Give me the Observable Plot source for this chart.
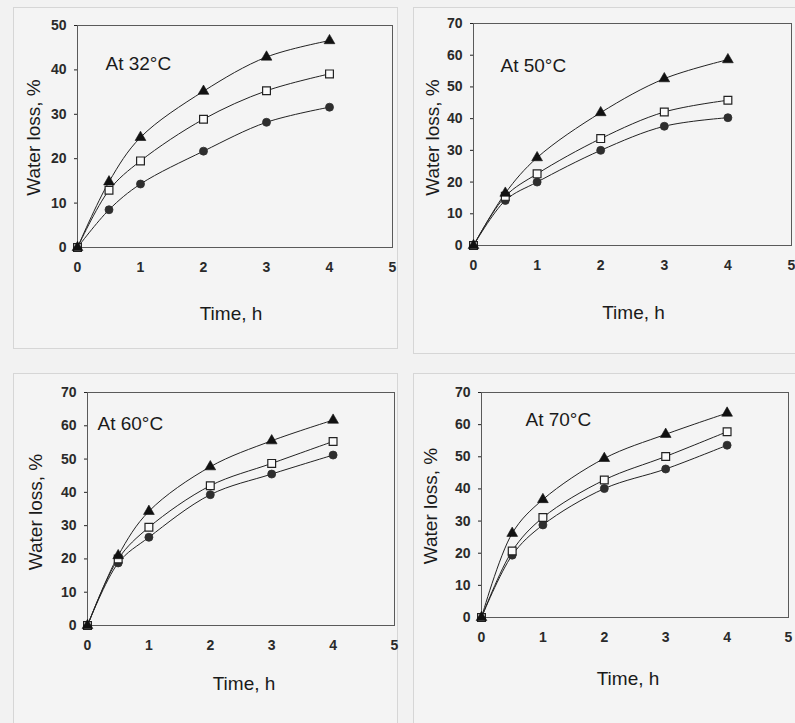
<!DOCTYPE html>
<html>
<head>
<meta charset="utf-8">
<script src="https://cdn.jsdelivr.net/npm/d3@7"></script>
<script src="https://cdn.jsdelivr.net/npm/@observablehq/plot@0.6"></script>
<style>
  html, body { margin: 0; padding: 0; background: #f2f2f2; }
  #wrap { position: relative; width: 795px; height: 723px; background: #f2f2f2; overflow: hidden; }
  .box { position: absolute; border: 1px solid #d6d6d6; background: #f4f4f4; }
  .pl { position: absolute; }
</style>
</head>
<body>
<div id="wrap">
  <div class="box" style="left:13px;top:7px;width:383px;height:340px"></div>
  <div class="box" style="left:413px;top:7px;width:390px;height:345px"></div>
  <div class="box" style="left:13px;top:373px;width:383px;height:360px"></div>
  <div class="box" style="left:413px;top:373px;width:390px;height:360px"></div>
  <div class="pl" id="p1" style="left:0;top:0"></div>
  <div class="pl" id="p2" style="left:400px;top:0"></div>
  <div class="pl" id="p3" style="left:0;top:360px"></div>
  <div class="pl" id="p4" style="left:400px;top:360px"></div>
</div>
<script>
// ---- data ----
const times = [0, 0.5, 1, 2, 3, 4];
const xTicks = [0, 1, 2, 3, 4, 5];
const yTicks50 = [0, 10, 20, 30, 40, 50];
const yTicks70 = [0, 10, 20, 30, 40, 50, 60, 70];
const panelTitles = ["At 32°C", "At 50°C", "At 60°C", "At 70°C"];
const xTitle = "Time, h";
const yTitle = "Water loss, %";

const t32_tri = [0, 14.8, 24.8, 35.2, 42.9, 46.6];
const t32_sq  = [0, 12.9, 19.5, 28.9, 35.3, 39.1];
const t32_cir = [0, 8.5, 14.3, 21.7, 28.2, 31.6];

const t50_tri = [0, 16.5, 27.7, 41.9, 52.6, 58.6];
const t50_sq  = [0, 15.5, 22.6, 33.7, 42.1, 45.8];
const t50_cir = [0, 14.2, 20.0, 30.0, 37.6, 40.3];

const t60_tri = [0, 21.0, 34.3, 47.7, 55.5, 61.7];
const t60_sq  = [0, 20.0, 29.5, 42.0, 48.7, 55.3];
const t60_cir = [0, 18.8, 26.5, 39.3, 45.5, 51.2];

const t70_tri = [0, 26.2, 36.7, 49.5, 57.0, 63.6];
const t70_sq  = [0, 20.7, 31.1, 42.8, 50.1, 57.8];
const t70_cir = [0, 19.4, 28.8, 40.1, 46.2, 53.6];

// ---- drawing ----
const FONT = "'Liberation Sans', Arial, Helvetica, sans-serif";
const intFmt = d3.format("d");

function toRows(series, name) {
  return times.map((t, i) => ({t, v: series[i], s: name}));
}

function panel(cfg) {
  const tri = toRows(cfg.tri, "tri");
  const sq = toRows(cfg.sq, "sq");
  const cir = toRows(cfg.cir, "cir");
  const all = [...cir, ...sq, ...tri];
  return Plot.plot({
    width: cfg.w, height: cfg.h,
    marginLeft: cfg.m[0], marginTop: cfg.m[1], marginRight: cfg.m[2], marginBottom: cfg.m[3],
    style: {background: "transparent", fontFamily: FONT, color: "#222", overflow: "visible"},
    x: {domain: [0, 5]},
    y: {domain: [0, cfg.yMax]},
    marks: [
      Plot.frame({stroke: "#5a5a5a", strokeWidth: 1}),
      Plot.axisX({ticks: xTicks, tickFormat: intFmt, tickSize: 0, tickPadding: 15, fontSize: 14, fontWeight: "bold", fill: "#2a2a2a", label: null}),
      Plot.axisY({ticks: cfg.yTicks, tickFormat: intFmt, tickSize: 3, tickPadding: 8, fontSize: 14, fontWeight: "bold", fill: "#2a2a2a", label: null}),
      Plot.line(all, {x: "t", y: "v", z: "s", curve: "catmull-rom", stroke: "#222", strokeWidth: 1}),
      Plot.dot(cir, {x: "t", y: "v", symbol: "circle", r: 4, fill: "#2e2e2e", stroke: "#2e2e2e", strokeWidth: 0.8}),
      Plot.dot(sq, {x: "t", y: "v", symbol: "square", r: 4.4, fill: "#fafafa", stroke: "#222", strokeWidth: 1.2}),
      Plot.dot(tri, {x: "t", y: "v", symbol: "triangle", r: 4, fill: "#111", stroke: "#111", strokeWidth: 0.6}),
      Plot.text([cfg.title], {frameAnchor: "top-left", dx: cfg.tp[0], dy: cfg.tp[1], textAnchor: "start", lineAnchor: "middle", fontSize: 19, fill: "#1a1a1a"}),
      Plot.text([xTitle], {frameAnchor: "bottom", dx: cfg.xt[0], dy: cfg.xt[1], lineAnchor: "middle", fontSize: 19, fill: "#1a1a1a"}),
      Plot.text([yTitle], {frameAnchor: "left", dx: -cfg.yt[0], dy: cfg.yt[1], rotate: -90, textAnchor: "middle", lineAnchor: "middle", fontSize: 19, fill: "#1a1a1a"})
    ]
  });
}

document.getElementById("p1").append(panel({
  w: 400, h: 360, m: [77, 25, 8, 113], yMax: 50, yTicks: yTicks50,
  tri: t32_tri, sq: t32_sq, cir: t32_cir, title: panelTitles[0],
  tp: [28, 38], xt: [-4, 66], yt: [44, 1]
}));
document.getElementById("p2").append(panel({
  w: 395, h: 360, m: [73, 23, 4, 115], yMax: 70, yTicks: yTicks70,
  tri: t50_tri, sq: t50_sq, cir: t50_cir, title: panelTitles[1],
  tp: [27, 42], xt: [1, 67], yt: [41, 3]
}));
document.getElementById("p3").append(panel({
  w: 400, h: 363, m: [87, 32, 6, 98], yMax: 70, yTicks: yTicks70,
  tri: t60_tri, sq: t60_sq, cir: t60_cir, title: panelTitles[2],
  tp: [10, 31], xt: [3, 58], yt: [52, 3]
}));
document.getElementById("p4").append(panel({
  w: 395, h: 363, m: [81, 32, 7, 106], yMax: 70, yTicks: yTicks70,
  tri: t70_tri, sq: t70_sq, cir: t70_cir, title: panelTitles[3],
  tp: [44, 27], xt: [-7, 61], yt: [51, 1]
}));
</script>
</body>
</html>
